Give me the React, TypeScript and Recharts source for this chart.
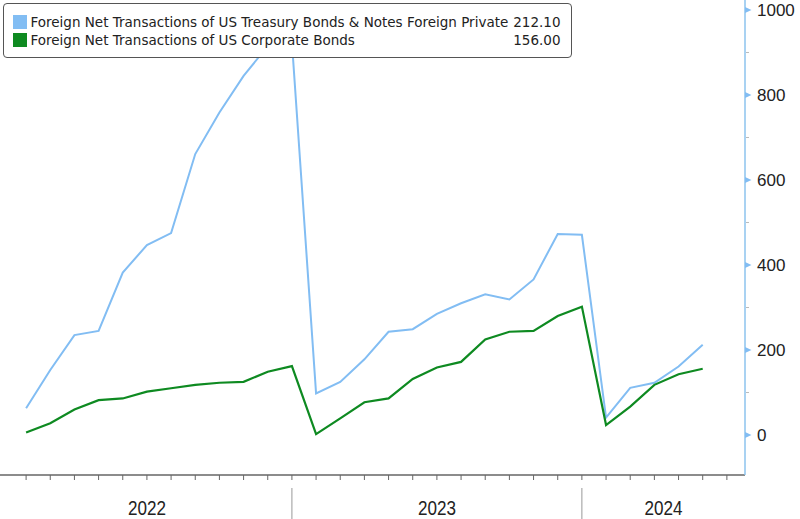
import React from "react";
import { LineChart, Line, XAxis, YAxis, Legend } from "recharts";

const months = [
  "2022-01", "2022-02", "2022-03", "2022-04", "2022-05", "2022-06",
  "2022-07", "2022-08", "2022-09", "2022-10", "2022-11", "2022-12",
  "2023-01", "2023-02", "2023-03", "2023-04", "2023-05", "2023-06",
  "2023-07", "2023-08", "2023-09", "2023-10", "2023-11", "2023-12",
  "2024-01", "2024-02", "2024-03", "2024-04", "2024-05",
];

const treasury = [
  63, 153, 235, 245, 382, 447, 475, 661, 759, 845, 915, 925,
  98, 125, 178, 243, 249, 285, 310, 331, 319, 366, 473, 471,
  41, 111, 123, 161, 212.1,
];

const corporate = [
  6, 27.5, 60, 82, 86, 102, 110, 118, 123, 125, 149, 162,
  2, 39, 77, 86, 132, 159, 172, 225, 243, 245, 280, 302,
  23.5, 67, 118, 143, 156,
];

const seriesNames = [
  "Foreign Net Transactions of US Treasury Bonds & Notes Foreign Private",
  "Foreign Net Transactions of US Corporate Bonds",
];
const lastValueLabels = ["212.10", "156.00"];
const seriesColors = ["#82BDF3", "#0E8A21"];

const yMajorTicks = [0, 200, 400, 600, 800, 1000];
const yMinorTicks = [100, 300, 500, 700, 900];

const years = ["2022", "2023", "2024"];
const yearBoundaries = [0, 12, 24, 30.75];

const xDomain: [number, number] = [-0.08, 30.75];
const yDomain: [number, number] = [-94.1, 1023.5];

const monthTicks = Array.from({ length: 30 }, (_, i) => i + 1);
const yearCenters = years.map((_, i) => (yearBoundaries[i] + yearBoundaries[i + 1]) / 2);
const yearSeparators = yearBoundaries.slice(1, -1);

const data = months.map((m, i) => ({
  x: i + 1,
  month: m,
  treasury: treasury[i],
  corporate: corporate[i],
}));

const MonthTick = (props: any) => {
  const { x, y } = props;
  return <line x1={x} y1={y} x2={x} y2={y + 5} stroke="#666" strokeWidth={1} />;
};

const YearTick = (props: any) => {
  const { x, y, payload } = props;
  const idx = yearCenters.indexOf(payload.value);
  if (idx >= 0) {
    return (
      <text
        x={x}
        y={y + 29.5}
        textAnchor="middle"
        fontFamily="'Liberation Sans Narrow', 'Liberation Sans', sans-serif"
        fontSize={20}
        fill="#222"
        textLength={38}
        lengthAdjust="spacingAndGlyphs"
      >
        {years[idx]}
      </text>
    );
  }
  return <line x1={x} y1={y + 3} x2={x} y2={y + 35} stroke="#999" strokeWidth={1} />;
};

const ValueTick = (props: any) => {
  const { x, y, payload } = props;
  const v = payload.value;
  if (yMajorTicks.includes(v)) {
    return (
      <g>
        <path d={`M${x},${y - 3} L${x + 6.5},${y} L${x},${y + 3} Z`} fill="#82BDF3" />
        <text
          x={x + 12}
          y={y + 6}
          fontFamily="'Liberation Sans', Arial, sans-serif"
          fontSize={17}
          fill="#222"
        >
          {String(v)}
        </text>
      </g>
    );
  }
  return <line x1={x + 1} y1={y} x2={x + 4} y2={y} stroke="#bbb" strokeWidth={1} />;
};

const LegendBox = () => (
  <div
    style={{
      position: "relative",
      width: 569,
      height: 55,
      boxSizing: "border-box",
      border: "1.5px solid #555",
      borderRadius: 4,
      background: "#fff",
      fontFamily: "'DejaVu Sans', sans-serif",
      fontSize: 13.5,
      color: "#222",
    }}
  >
    {seriesNames.map((name, i) => (
      <React.Fragment key={name}>
        <div
          style={{
            position: "absolute",
            left: 8.5,
            top: 10.5 + i * 18,
            width: 14,
            height: 14,
            background: seriesColors[i],
          }}
        />
        <div
          style={{
            position: "absolute",
            left: 26.5,
            top: 9 + i * 18,
            height: 18,
            lineHeight: "18px",
            whiteSpace: "nowrap",
          }}
        >
          {name}
        </div>
        <div
          style={{
            position: "absolute",
            right: 10.5,
            top: 9 + i * 18,
            height: 18,
            lineHeight: "18px",
            whiteSpace: "nowrap",
          }}
        >
          {lastValueLabels[i]}
        </div>
      </React.Fragment>
    ))}
  </div>
);

export default function App() {
  return (
    <div style={{ position: "absolute", left: 0, top: 0, width: 800, height: 519, background: "#fff" }}>
      <LineChart width={800} height={519} data={data} margin={{ top: 0, right: 0, bottom: 0, left: 0 }}>
        <XAxis
          xAxisId="m"
          dataKey="x"
          type="number"
          domain={xDomain}
          allowDataOverflow
          ticks={monthTicks}
          interval={0}
          height={10}
          tickSize={0}
          tickMargin={0}
          tickLine={false}
          axisLine={{ stroke: "#666", strokeWidth: 1.5 }}
          tick={<MonthTick />}
        />
        <XAxis
          xAxisId="y"
          dataKey="x"
          type="number"
          domain={xDomain}
          allowDataOverflow
          ticks={[...yearSeparators, ...yearCenters]}
          interval={0}
          height={34}
          tickSize={0}
          tickMargin={0}
          tickLine={false}
          axisLine={false}
          tick={<YearTick />}
        />
        <YAxis
          yAxisId="v"
          orientation="right"
          width={55}
          domain={yDomain}
          allowDataOverflow
          ticks={[...yMinorTicks, ...yMajorTicks].sort((a, b) => a - b)}
          interval={0}
          tickSize={0}
          tickMargin={0}
          tickLine={false}
          axisLine={{ stroke: "#8CC3EE", strokeWidth: 1.5 }}
          tick={<ValueTick />}
        />
        <Legend
          layout="horizontal"
          verticalAlign="middle"
          align="center"
          wrapperStyle={{ left: 3, top: 3, width: 569, height: 55 }}
          content={() => <LegendBox />}
        />
        <Line
          xAxisId="m"
          yAxisId="v"
          type="linear"
          dataKey="treasury"
          stroke={seriesColors[0]}
          strokeWidth={2}
          dot={false}
          activeDot={false}
          isAnimationActive={false}
        />
        <Line
          xAxisId="m"
          yAxisId="v"
          type="linear"
          dataKey="corporate"
          stroke={seriesColors[1]}
          strokeWidth={2.2}
          dot={false}
          activeDot={false}
          isAnimationActive={false}
        />
      </LineChart>
    </div>
  );
}
